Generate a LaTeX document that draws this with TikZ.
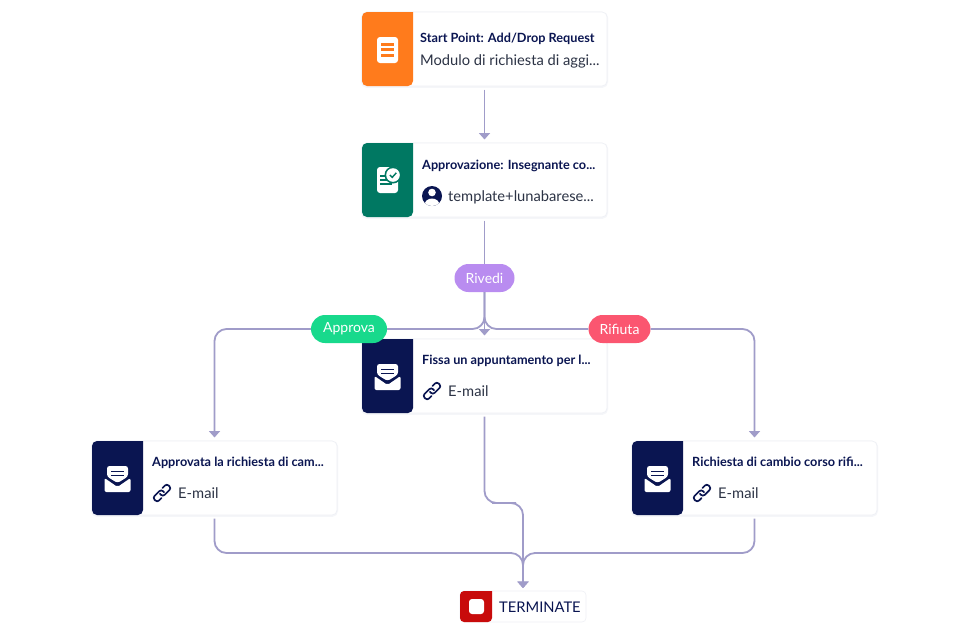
\documentclass[tikz,border=0pt]{standalone}
\usepackage{fontspec}
\setmainfont{Lato}
\usetikzlibrary{arrows.meta,calc}
\definecolor{cOrange}{HTML}{FF7B1C}
\definecolor{cGreen}{HTML}{007862}
\definecolor{cNavy}{HTML}{0A1551}
\definecolor{cRed}{HTML}{C80B0B}
\definecolor{cLine}{HTML}{A09CC9}
\definecolor{cPurple}{HTML}{B98CF0}
\definecolor{cMint}{HTML}{18D98C}
\definecolor{cPink}{HTML}{FB5670}
\definecolor{cEdge}{HTML}{EEF0F5}
\definecolor{cSub}{HTML}{2C3345}
\tikzset{
  x=1pt,y=-1pt,
  cardbox/.style={draw=cEdge,line width=.6pt,fill=white,rounded corners=5pt,minimum width=245pt,minimum height=74pt,inner sep=0pt,outer sep=3.5pt,preaction={draw=cEdge!60,line width=2.2pt,transform canvas={yshift=-.8pt}}},
  termbox/.style={draw=cEdge,line width=.6pt,fill=white,rounded corners=4pt,minimum width=126pt,minimum height=31pt,inner sep=0pt,outer sep=3pt},
  titletext/.style={anchor=base west,inner sep=0pt,text=cNavy,font=\fontsize{12.7}{14}\selectfont\bfseries},
  subtext/.style={anchor=base west,inner sep=0pt,text=cSub,font=\fontsize{14.7}{16}\selectfont},
  pill/.style={rounded corners=14pt,minimum height=28pt,inner sep=0pt,text=white,font=\fontsize{14}{15}\selectfont},
  flow/.style={draw=cLine,line width=1.8pt,rounded corners=12pt,-{Triangle[length=6.5pt,width=11pt]}},
  flowplain/.style={draw=cLine,line width=1.8pt,rounded corners=12pt},
}
% panel: x0, y0, colour
\newcommand{\leftpanel}[3]{\fill[#3] (#1+51,#2) [rounded corners=5pt] -- (#1,#2) -- (#1,#2+74) -- (#1+51,#2+74) [sharp corners] -- cycle;}
\newcommand{\mailicon}[2]{%
  \begin{scope}[shift={(#1,#2)}]
    \fill[white,rounded corners=2.5pt] (-10.5,-2.5) -- (-10.5,-13) -- (10.5,-13) -- (10.5,-2.5) -- (0,4) -- cycle;
    \fill[cNavy] (-6.5,-8.5) rectangle (6.5,-6.6);
    \fill[cNavy] (-6.5,-4.5) rectangle (6.5,-2.6);
    \fill[white,rounded corners=2pt] (-13,-1) -- (0,8) -- (13,-1) -- (13,13) -- (-13,13) -- cycle;
  \end{scope}}
\newcommand{\linkicon}[2]{%
  \begin{scope}[shift={(#1,#2)},rotate=45]
    \draw[cNavy,line width=1.7pt,rounded corners=2.6pt,line cap=round] (2,1) -- (2,-3.2) -- (-10,-3.2) -- (-10,3.2) -- (-3.8,3.2);
    \draw[cNavy,line width=1.7pt,rounded corners=2.6pt,line cap=round] (-2,-1) -- (-2,3.2) -- (10,3.2) -- (10,-3.2) -- (3.8,-3.2);
  \end{scope}}
\begin{document}
\begin{tikzpicture}
\useasboundingbox (0,0) rectangle (968,633);
\fill[white] (0,0) rectangle (968,633);
\coordinate (busY) at (0,553);
\coordinate (midY) at (504,503);
% cards
\node[cardbox] (start) at (484.5,49) {};
\leftpanel{362}{12}{cOrange}
\node[titletext] (startT) at (420,42) {Start Point: Add/Drop Request};
\node[subtext] (startS) at (420,65) {Modulo di richiesta di aggi...};
\fill[white,rounded corners=3pt] (377,37) rectangle (398,63);
\fill[cOrange] (381,42.8) rectangle (394,45.8);
\fill[cOrange] (381,48.4) rectangle (394,51.4);
\fill[cOrange] (381,53.6) rectangle (394,56.6);

\node[cardbox] (appr) at (484.5,180) {};
\leftpanel{362}{143}{cGreen}
\node[titletext] (apprT) at (422,169) {Approvazione: Insegnante co...};
\node[subtext] (apprS) at (448,201) {template+lunabarese...};
\fill[white,rounded corners=3pt] (377,167) rectangle (398,193);
\fill[cGreen] (380,175) rectangle (388,176.6);
\fill[cGreen] (380,179) rectangle (387,180.6);
\fill[cGreen] (380,183) rectangle (392,185);
\fill[cGreen] (393,175) circle[radius=8.5pt];
\fill[white] (393,175) circle[radius=6.8pt];
\draw[cGreen,line width=1.4pt] (389.8,175) -- (392.2,177.4) -- (396.3,172.8);
\fill[cNavy] (432,196) circle[radius=10pt];
\begin{scope}
  \clip (432,196) circle[radius=10pt];
  \fill[white] (432,192.5) circle[radius=3.8pt];
  \fill[white] (432,205) ellipse[x radius=7.5pt,y radius=6.5pt];
\end{scope}

\node[cardbox] (fissa) at (484.5,376) {};
\leftpanel{362}{339}{cNavy}
\fill[cNavy] (362,339) rectangle (372,349);
\node[titletext] (fissaT) at (422,364) {Fissa un appuntamento per l...};
\node[subtext] (fissaS) at (448,396) {E-mail};
\mailicon{387.5}{377}
\linkicon{432}{391}

\node[cardbox] (left) at (214.5,478) {};
\leftpanel{92}{441}{cNavy}
\node[titletext] (leftT) at (152,466) {Approvata la richiesta di cam...};
\node[subtext] (leftS) at (178,498) {E-mail};
\mailicon{117.5}{479}
\linkicon{162}{493}

\node[cardbox] (right) at (754.5,478) {};
\leftpanel{632}{441}{cNavy}
\node[titletext] (rightT) at (692,466) {Richiesta di cambio corso rifi...};
\node[subtext] (rightS) at (718,498) {E-mail};
\mailicon{657.5}{479}
\linkicon{702}{493}

\node[termbox] (term) at (523,606.5) {};
\fill[cRed] (492,591) [rounded corners=4pt] -- (460,591) -- (460,622) -- (492,622) [sharp corners] -- cycle;
\fill[white,rounded corners=3pt] (469,599) rectangle (484,614);
\node[subtext,text=cNavy] (termT) at (499,612) {TERMINATE};

% labels
\node[pill,fill=cPurple,minimum width=60pt] (rivedi) at (484.5,278) {Rivedi};
\node[pill,fill=cMint,minimum width=76pt] (approva) at (349,329) {Approva};
\node[pill,fill=cPink,minimum width=62pt] (rifiuta) at (619.5,329) {Rifiuta};

% connectors
\draw[flow] (start.south) -- (appr.north);
\draw[flowplain] (appr.south) -- (rivedi.north);
\draw[flow] (rivedi.south) -- (fissa.north);
\draw[flowplain] (rivedi.south) |- (approva.east);
\draw[flowplain] (rivedi.south) |- (rifiuta.west);
\draw[flow] (approva.west) -| (left.north);
\draw[flow] (rifiuta.east) -| (right.north);
\draw[flow] (fissa.south) |- (midY) -| (term.north);
\draw[flow] (left.south) |- (term.north |- busY) -- (term.north);
\draw[flow] (right.south) |- (term.north |- busY) -- (term.north);
\end{tikzpicture}
\end{document}
